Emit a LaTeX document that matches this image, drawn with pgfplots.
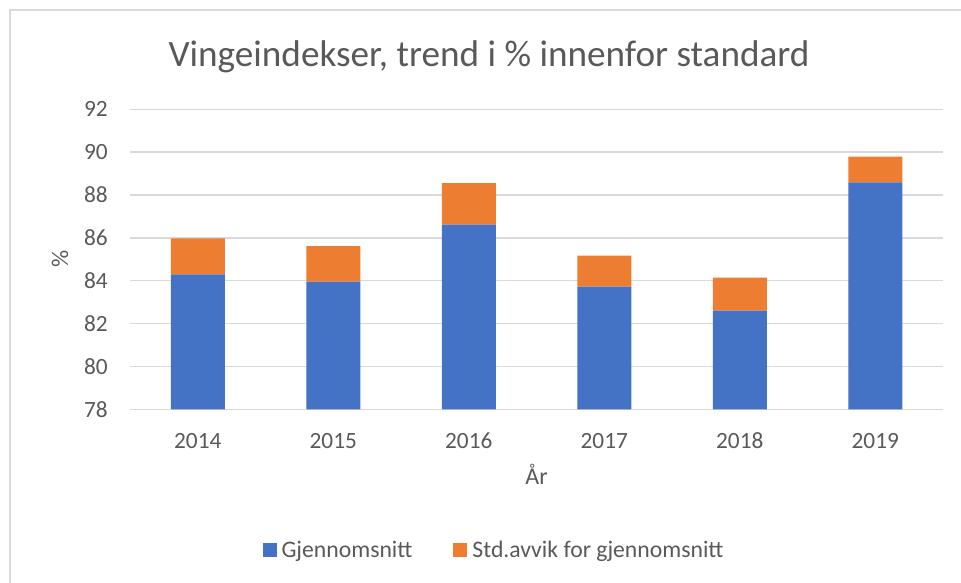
\documentclass[border=0pt]{standalone}
\usepackage{pgfplots}
\pgfplotsset{compat=1.18}
\usepackage{fontspec}
\setmainfont{Carlito}
\definecolor{cblue}{HTML}{4472C4}
\definecolor{corange}{HTML}{ED7D31}
\definecolor{ctext}{HTML}{595959}
\definecolor{cgrid}{HTML}{D9D9D9}
\begin{document}
\begin{tikzpicture}
\useasboundingbox (0pt,0pt) rectangle (961pt,-582pt);
\draw[cgrid, line width=1.4pt] (10pt,-600pt) -- (10pt,-10pt) -- (980pt,-10pt);
\node[anchor=base, text=ctext, font=\fontsize{37.2}{42}\selectfont, inner sep=0pt] at (489pt,-66pt) {Vingeindekser, trend i \% innenfor standard};
\begin{axis}[
  at={(130pt,-409.3pt)}, anchor=south west,
  scale only axis, width=813pt, height=300pt,
  ybar stacked, bar width=54pt,
  xmin=-0.5, xmax=5.5, ymin=78, ymax=92,
  xtick={0,1,2,3,4,5},
  xticklabels={2014,2015,2016,2017,2018,2019},
  ytick={78,80,82,84,86,88,90,92},
  major tick length=0pt,
  axis line style={draw=none},
  ymajorgrids, grid style={cgrid, line width=1.5pt},
  /pgf/number format/assume math mode=true,
  tick label style={text=ctext, font=\fontsize{23.3}{27}\selectfont},
  yticklabel style={anchor=east, inner sep=0pt, xshift=-22pt},
  xticklabel style={anchor=base, inner sep=0pt, yshift=-38.7pt},
  xlabel={År}, ylabel={\%},
  label style={text=ctext, font=\fontsize{24}{28}\selectfont},
  xlabel style={at={(rel axis cs:0.5,-0.252)}, anchor=base, inner sep=0pt},
  ylabel style={at={(rel axis cs:-0.0861,0.5)}, anchor=center, rotate=0, inner sep=0pt},
  legend columns=2,
  legend style={at={(rel axis cs:0.4496,-0.469)}, anchor=center, draw=none, fill=none,
    font=\fontsize{23.7}{27}\selectfont, text=ctext,
    /tikz/every even column/.append style={column sep=36pt},
    nodes={inner xsep=5pt, inner ysep=0pt}},
  legend image code/.code={\fill[#1,draw=none] (0pt,-7pt) rectangle (14pt,7pt);},
]
\addplot[fill=cblue, draw=none] coordinates {(0,84.30) (1,83.96) (2,86.62) (3,83.72) (4,82.60) (5,88.59)};
\addplot[fill=corange, draw=none] coordinates {(0,1.68) (1,1.65) (2,1.93) (3,1.45) (4,1.54) (5,1.20)};
\legend{Gjennomsnitt, Std.avvik for gjennomsnitt}
\end{axis}
\end{tikzpicture}
\end{document}
